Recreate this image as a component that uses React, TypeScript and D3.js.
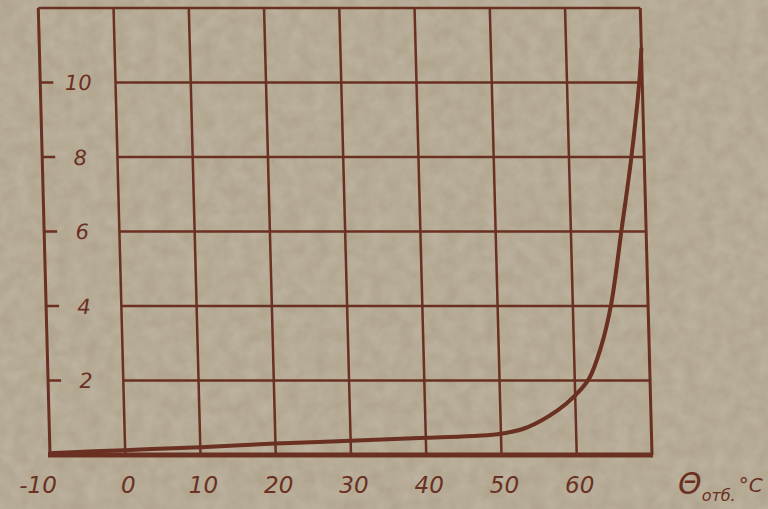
import React, { useRef, useEffect } from 'react';
import * as d3 from 'd3';

// curve: temperature (°C) -> value
const temps = [-10, 0, 10, 20, 30, 40, 50, 53.6, 57.7, 60, 61.9, 63.6, 65.1, 66.7, 68.3, 69.6, 70];
const values = [0.05, 0.13, 0.21, 0.31, 0.38, 0.46, 0.57, 0.75, 1.21, 1.6, 2.05, 2.9, 4.05, 6.0, 8.0, 10.0, 10.9];

const xTicks = [-10, 0, 10, 20, 30, 40, 50, 60];
const xGrid = [0, 10, 20, 30, 40, 50, 60];
const yTicks = [2, 4, 6, 8, 10];

const ink = '#6a3021';
const paper = '#b0a48e';
const font = "'DejaVu Sans', sans-serif";

const App = () => {
  const svgRef = useRef<SVGSVGElement>(null);

  useEffect(() => {
    const width = 768;
    const height = 509;
    const svg = d3.select(svgRef.current);
    svg.selectAll('*').remove();

    const x = d3.scaleLinear().domain([-10, 70]).range([50, 652]);
    const y = d3.scaleLinear().domain([0, 12]).range([455, 8]);

    const defs = svg.append('defs');
    const filter = defs.append('filter').attr('id', 'grain').attr('x', 0).attr('y', 0).attr('width', 1).attr('height', 1);
    filter.append('feTurbulence').attr('type', 'fractalNoise').attr('baseFrequency', 0.07).attr('numOctaves', 3).attr('seed', 4);
    filter.append('feColorMatrix').attr('values', '0 0 0 0 0.85  0 0 0 0 0.8  0 0 0 0 0.7  0 0 0 0.3 -0.05');
    filter.append('feComposite').attr('in2', 'SourceGraphic').attr('operator', 'in');

    svg.append('rect').attr('width', width).attr('height', height).style('fill', paper);
    svg.append('rect').attr('width', width).attr('height', height).style('fill', paper).attr('filter', 'url(#grain)');

    // photo is slightly skewed, lean the whole grid a little
    const y0 = y(0);
    const chart = svg.append('g')
      .attr('transform', `translate(0,${y0}) skewX(1.5) translate(0,${-y0})`);

    // horizontal grid
    chart.selectAll('line.hgrid')
      .data(yTicks)
      .enter()
      .append('line')
      .attr('x1', x(0)).attr('x2', x(70))
      .attr('y1', (d) => y(d)).attr('y2', (d) => y(d))
      .style('stroke', ink).style('stroke-width', 2.5);

    // vertical grid
    chart.selectAll('line.vgrid')
      .data(xGrid)
      .enter()
      .append('line')
      .attr('x1', (d) => x(d)).attr('x2', (d) => x(d))
      .attr('y1', y(12)).attr('y2', y(0))
      .style('stroke', ink).style('stroke-width', 2.5);

    // frame
    chart.append('line').attr('x1', x(-10)).attr('x2', x(70)).attr('y1', y(12)).attr('y2', y(12))
      .style('stroke', ink).style('stroke-width', 2.5);
    chart.append('line').attr('x1', x(-10)).attr('x2', x(-10)).attr('y1', y(12)).attr('y2', y(0))
      .style('stroke', ink).style('stroke-width', 3);
    chart.append('line').attr('x1', x(70)).attr('x2', x(70)).attr('y1', y(12)).attr('y2', y(0))
      .style('stroke', ink).style('stroke-width', 3);
    chart.append('line').attr('x1', x(-10) - 2).attr('x2', x(70) + 1).attr('y1', y(0)).attr('y2', y(0))
      .style('stroke', ink).style('stroke-width', 5);

    // y ticks + labels
    chart.selectAll('line.ytick')
      .data(yTicks)
      .enter()
      .append('line')
      .attr('x1', x(-10)).attr('x2', x(-10) + 13)
      .attr('y1', (d) => y(d)).attr('y2', (d) => y(d))
      .style('stroke', ink).style('stroke-width', 2.5);

    chart.selectAll('text.ylab')
      .data(yTicks)
      .enter()
      .append('text')
      .attr('x', x(-10) + 38)
      .attr('y', (d) => y(d))
      .attr('dy', '0.36em')
      .attr('text-anchor', 'middle')
      .style('font-family', font)
      .style('font-style', 'italic')
      .style('font-size', 21)
      .style('fill', ink)
      .text((d) => d);

    // curve
    const line = d3.line<number>()
      .x((d, i) => x(temps[i]))
      .y((d) => y(d))
      .curve(d3.curveCatmullRom.alpha(0.5));

    chart.append('path')
      .attr('d', line(values))
      .style('fill', 'none')
      .style('stroke', ink)
      .style('stroke-width', 4)
      .style('stroke-linecap', 'round');

    // x labels
    svg.selectAll('text.xlab')
      .data(xTicks)
      .enter()
      .append('text')
      .attr('x', (d) => x(d) + (d < 0 ? -12 : 3))
      .attr('y', 493)
      .attr('text-anchor', 'middle')
      .style('font-family', font)
      .style('font-style', 'italic')
      .style('font-size', 23)
      .style('fill', ink)
      .text((d) => (d < 0 ? '-' + Math.abs(d) : d));

    const title = svg.append('text')
      .attr('x', 678)
      .attr('y', 494)
      .style('font-family', font)
      .style('font-style', 'italic')
      .style('fill', ink);
    title.append('tspan').style('font-size', 30).text('Θ');
    title.append('tspan').style('font-size', 16).attr('dy', 7).text('отб.');
    title.append('tspan').style('font-size', 20).attr('dy', -9).attr('dx', 3).text('°C');
  }, []);

  return (
    <svg ref={svgRef} width={768} height={509} style={{ position: 'absolute', left: 0, top: 0 }} />
  );
};

export default App;
